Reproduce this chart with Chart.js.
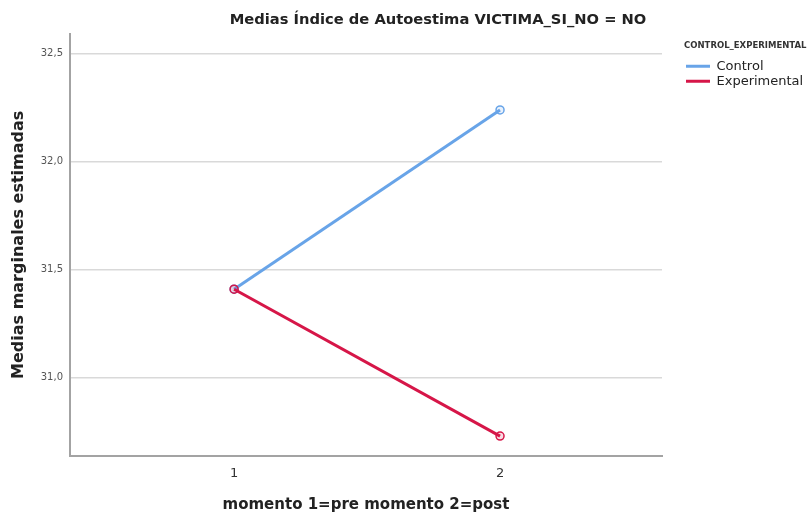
<!DOCTYPE html>
<html>
<head>
<meta charset="utf-8">
<script src="https://cdn.jsdelivr.net/npm/chart.js@4"></script>
<style>
  body { margin: 0; background: #fff; }
</style>
</head>
<body>
<canvas id="myChart" width="808" height="514"></canvas>
<script>
const momentos = [1, 2]
const control = [31.41, 32.24]
const experimental = [31.41, 30.73]
const yTicks = [31.0, 31.5, 32.0, 32.5]
const xTicks = [1, 2]

const fontFam = '"DejaVu Sans", sans-serif'

// mueve el titulo y la leyenda a su sitio
const ajustes = {
  id: 'ajustes',
  beforeLayout(chart) {
    const lg = chart.legend
    if (lg && !lg._fijo) {
      const f = lg.fit
      lg.fit = function () { f.call(this); this.width = 146 }
      lg._fijo = true
    }
  },
  afterLayout(chart) {
    chart.titleBlock.left = 68
    chart.titleBlock.right = 808
    chart.legend.left = 684
  }
}

const data = {
  datasets: [{
    label: 'Control',
    data: momentos.map((m, i) => ({ x: m, y: control[i] })),
    borderColor: 'rgb(104, 164, 232)',
    backgroundColor: 'rgb(104, 164, 232)',
    pointBackgroundColor: 'rgba(104, 164, 232, 0.15)',
    borderWidth: 3,
    pointRadius: 4,
    pointBorderWidth: 1.5,
    order: 1
  }, {
    label: 'Experimental',
    data: momentos.map((m, i) => ({ x: m, y: experimental[i] })),
    borderColor: 'rgb(214, 22, 72)',
    backgroundColor: 'rgb(214, 22, 72)',
    pointBackgroundColor: 'rgba(214, 22, 72, 0.15)',
    borderWidth: 3,
    pointRadius: 4,
    pointBorderWidth: 1.5,
    order: 0
  }]
}

const config = {
  type: 'line',
  data,
  plugins: [ajustes],
  options: {
    responsive: false,
    animation: false,
    layout: { padding: 0 },
    plugins: {
      tooltip: { enabled: false },
      title: {
        display: true,
        text: 'Medias Índice de Autoestima VICTIMA_SI_NO = NO',
        color: '#222',
        font: { family: fontFam, size: 14.7, weight: 'bold' },
        padding: { top: 11, bottom: 5 }
      },
      legend: {
        position: 'right',
        align: 'start',
        fullSize: false,
        title: {
          display: true,
          text: 'CONTROL_EXPERIMENTAL',
          position: 'start',
          color: '#333',
          font: { family: fontFam, size: 8.5, weight: 'bold' },
          padding: { top: 8, bottom: 6 }
        },
        labels: {
          usePointStyle: true,
          pointStyle: 'line',
          pointStyleWidth: 24,
          padding: 2,
          color: '#222',
          font: { family: fontFam, size: 13 },
          sort: (a, b) => a.datasetIndex - b.datasetIndex,
          generateLabels: chart => {
            const items = Chart.defaults.plugins.legend.labels.generateLabels(chart)
            items.forEach(it => { it.lineWidth = 3 })
            return items
          }
        }
      }
    },
    scales: {
      x: {
        type: 'linear',
        min: 0.383,
        max: 2.609,
        afterBuildTicks: s => { s.ticks = xTicks.map(v => ({ value: v })) },
        afterFit: s => { s.height = 58 },
        grid: { display: false, drawTicks: false },
        border: { display: true, color: '#a3a3a3', width: 2 },
        ticks: {
          padding: 10,
          color: '#333',
          font: { family: fontFam, size: 13 },
          callback: v => String(v)
        },
        title: {
          display: true,
          text: 'momento 1=pre momento 2=post',
          color: '#222',
          font: { family: fontFam, size: 15, weight: 'bold' },
          padding: { top: 0, bottom: 0 }
        }
      },
      y: {
        min: 30.638,
        max: 32.593,
        afterBuildTicks: s => { s.ticks = yTicks.map(v => ({ value: v })) },
        afterFit: s => { s.width = 70 },
        grid: { color: '#d9d9d9', lineWidth: 1.5, drawTicks: false },
        border: { display: true, color: '#a3a3a3', width: 2 },
        ticks: {
          padding: 7,
          color: '#555',
          font: { family: fontFam, size: 10 },
          callback: v => v.toFixed(1).replace('.', ',')
        },
        title: {
          display: true,
          text: 'Medias marginales estimadas',
          color: '#222',
          font: { family: fontFam, size: 16, weight: 'bold' },
          padding: { top: 9, bottom: 0 }
        }
      }
    }
  }
}

const myChart = new Chart(document.querySelector('#myChart'), config)
</script>
</body>
</html>
